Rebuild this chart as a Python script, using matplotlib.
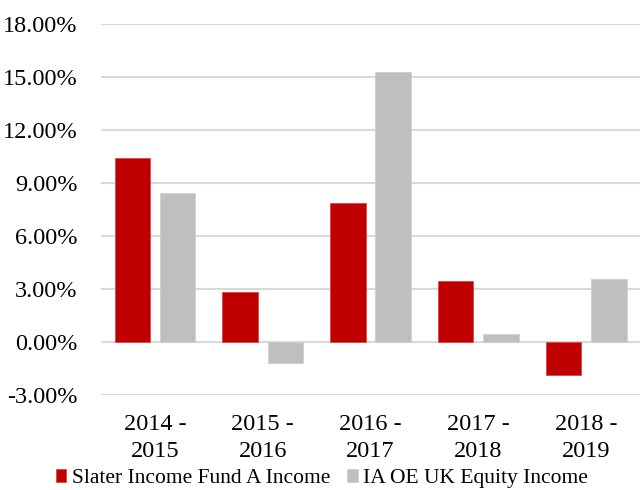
import matplotlib
matplotlib.use("Agg")
import matplotlib.pyplot as plt
import numpy as np
from matplotlib.ticker import FuncFormatter, MultipleLocator

periods = ["2014 -\n2015", "2015 -\n2016", "2016 -\n2017", "2017 -\n2018", "2018 -\n2019"]
slater = [10.37, 2.80, 7.88, 3.44, -1.88]
ia_uk_equity = [8.39, -1.18, 15.25, 0.42, 3.55]

plt.rcParams['font.family'] = ['Liberation Serif', 'DejaVu Serif']

fig = plt.figure(figsize=(6.4, 4.9), dpi=100)
ax = fig.add_axes([0.158, 0.194, 0.842, 0.758])

x = np.arange(len(periods))
width = 0.33
offset = 0.21
ax.bar(x - offset, slater, width, color='#C00000', edgecolor='#D84A4A', linewidth=0.6,
       label="Slater Income Fund A Income", zorder=3)
ax.bar(x + offset, ia_uk_equity, width, color='#BFBFBF', edgecolor='#CFCFCF', linewidth=0.6,
       label="IA OE UK Equity Income", zorder=3)

ax.set_xlim(-0.5, len(periods) - 0.5)
ax.set_ylim(-3, 18)
ax.yaxis.set_major_locator(MultipleLocator(3))
ax.yaxis.set_major_formatter(FuncFormatter(lambda v, p: f"{v:.2f}%"))
ax.set_xticks(x)
ax.set_xticklabels(periods, linespacing=1.35)
ax.grid(axis='y', color='#D9D9D9', linewidth=1.5, zorder=0)
for s in ax.spines.values():
    s.set_visible(False)
ax.tick_params(axis='both', length=0, labelsize=17.5, colors='black')
ax.tick_params(axis='y', pad=17)
ax.tick_params(axis='x', pad=14)

fig.legend(loc='center', bbox_to_anchor=(0.503, 0.024), ncol=2, frameon=False,
           fontsize=15.5, handlelength=0.5, handleheight=0.6, handletextpad=0.25,
           columnspacing=0.8, borderpad=0, borderaxespad=0)

fig.savefig("out.png", dpi=100)
